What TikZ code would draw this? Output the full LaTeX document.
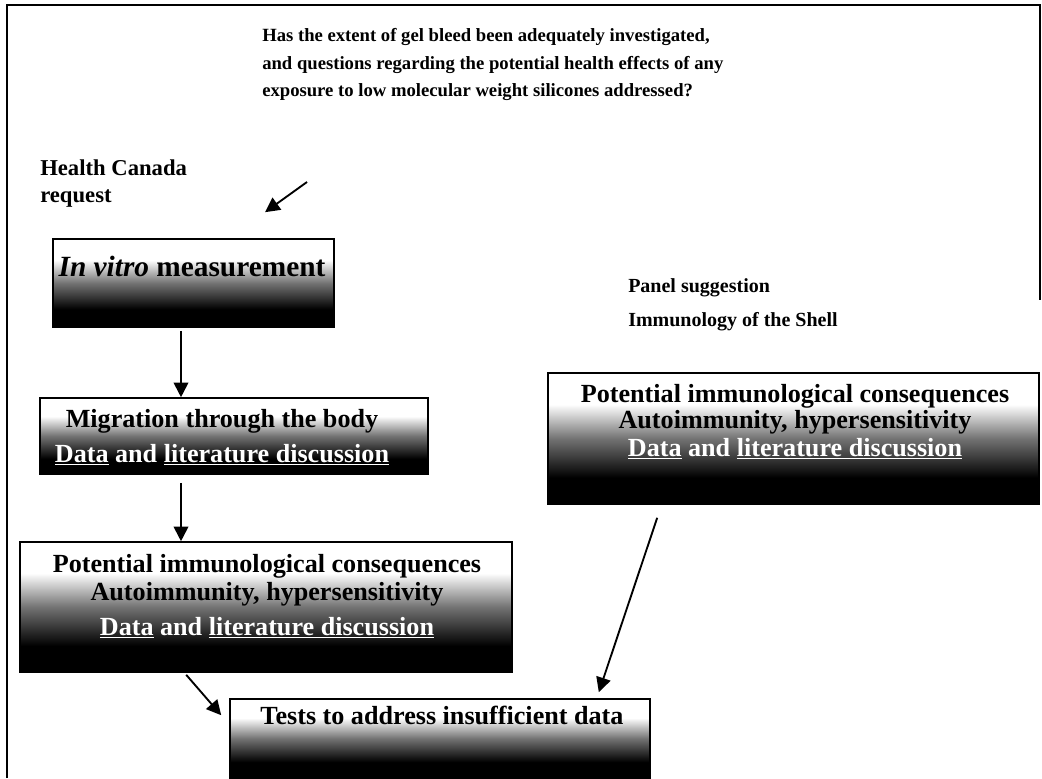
\documentclass[tikz,border=0pt]{standalone}
\usepackage{fontspec}
\setmainfont{Liberation Serif}
\usetikzlibrary{arrows.meta,positioning,calc,fit}
\pgfdeclareverticalshading{fade}{100bp}{color(0bp)=(black); color(35bp)=(black); color(50bp)=(black!55); color(63bp)=(white); color(100bp)=(white)}
\tikzset{
  panel/.style={draw=black, line width=1.2pt, shade, shading=fade, inner sep=0pt},
  paneltxt/.style={font=\fontsize{19.6}{21}\selectfont\bfseries, align=center, inner sep=0pt},
  lbl/.style={font=\fontsize{15}{20}\selectfont\bfseries, align=left, inner sep=0pt, anchor=north west},
  arr/.style={-{Triangle[length=11pt,width=11pt]}, line width=1.4pt},
}
\newcommand{\lit}{\textcolor{white}{\underline{Data} and \underline{literature discussion}}}

\begin{document}
\begin{tikzpicture}[x=0.75pt,y=-0.75pt]
  \useasboundingbox (0,0) rectangle (1042,778);
  % frame round the page
  \draw[line width=1.2pt] (7,778) -- (7,5) -- (1040,5) -- (1040,300);

  % the question
  \node[lbl, font=\fontsize{14}{20.6}\selectfont\bfseries] (question) at (262,28.5)
    {Has the extent of gel bleed been adequately investigated,\\
     and questions regarding the potential health effects of any\\
     exposure to low molecular weight silicones addressed?};
  \node[lbl, font=\fontsize{17}{20}\selectfont\bfseries] (hc) at (40,159.5) {Health Canada\\request};
  \node[lbl, font=\fontsize{15}{26}\selectfont\bfseries] (panelsug) at (628,278) {Panel suggestion\\Immunology of the Shell};

  % boxes
  \node[panel, fit={(53,239) (334,327)}] (vitro) {};
  \node[panel, fit={(40,398) (428,474)}] (migr) {};
  \node[panel, fit={(20,542) (512,672)}] (immuno) {};
  \node[panel, fit={(230,699) (650,778)}] (tests) {};
  \node[panel, fit={(548,373) (1039,504)}] (shell) {};

  % box texts
  \node[paneltxt, font=\fontsize{22}{22}\selectfont\bfseries, anchor=base] (vitrotxt) at (192,276) {\textit{In vitro} measurement};
  \node[paneltxt] (migrtxt) at (222,437) {Migration through the body\\[5.25pt] \lit};
  \node[paneltxt] (immunotxt) at (267,596) {Potential immunological consequences\\
    Autoimmunity, hypersensitivity\\[5.25pt] \lit};
  \node[paneltxt, anchor=base] (teststxt) at (442,724) {Tests to address insufficient data};
  \node[paneltxt, font=\fontsize{19.6}{19.5}\selectfont\bfseries] (shelltxt) at (795,422) {Potential immunological consequences\\
    Autoimmunity, hypersensitivity\\[1.2pt] \lit};

  % connectors
  \coordinate (stem) at (181,0);
  \coordinate (hcfrom) at (307,182);
  \draw[arr] (hcfrom) -- ($(vitro.north)+(71.5,-26)$);
  \draw[arr] ($(vitro.south -| stem)+(0,3)$) -- (migr.north -| stem);
  \draw[arr] ($(migr.south -| stem)+(0,8)$) -- (immuno.north -| stem);
  \draw[arr] ($(immuno.south west)+(167,2)$) -- ($(tests.north west)+(-8,17)$);
  \draw[arr] ($(shell.south west)+(110,13)$) -- ($(tests.north east)+(-52,-6)$);
\end{tikzpicture}
\end{document}
